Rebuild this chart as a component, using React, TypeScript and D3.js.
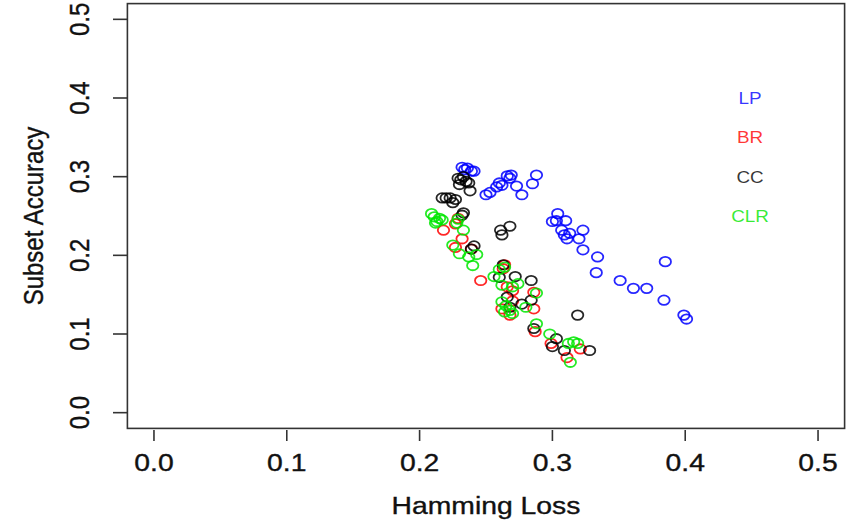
import * as d3 from 'd3';
import { useEffect, useRef } from 'react';

const width = 847;
const height = 524;

// hamming loss / subset accuracy pairs
const lpPoints = [
  [0.232, 0.312], [0.234, 0.309], [0.236, 0.311], [0.239, 0.307], [0.241, 0.307],
  [0.25, 0.277], [0.253, 0.28], [0.258, 0.287], [0.26, 0.292], [0.262, 0.289],
  [0.266, 0.301], [0.268, 0.298], [0.269, 0.302], [0.273, 0.288], [0.277, 0.277],
  [0.285, 0.291], [0.288, 0.302],
  [0.304, 0.253], [0.3, 0.243], [0.303, 0.244], [0.31, 0.244], [0.307, 0.232],
  [0.309, 0.226], [0.313, 0.228], [0.311, 0.221], [0.323, 0.232], [0.32, 0.221],
  [0.323, 0.207], [0.334, 0.198], [0.333, 0.178], [0.351, 0.168], [0.361, 0.158],
  [0.371, 0.158], [0.384, 0.143], [0.385, 0.192], [0.399, 0.124], [0.401, 0.119],
];

const brPoints = [
  [0.218, 0.232], [0.227, 0.24], [0.229, 0.247], [0.232, 0.221], [0.227, 0.21],
  [0.239, 0.208], [0.246, 0.168], [0.264, 0.188], [0.263, 0.183], [0.27, 0.155],
  [0.286, 0.153], [0.262, 0.132], [0.268, 0.124], [0.286, 0.132], [0.287, 0.103],
  [0.299, 0.088], [0.321, 0.081], [0.311, 0.07], [0.27, 0.142], [0.266, 0.16],
];

const ccPoints = [
  [0.229, 0.298], [0.231, 0.296], [0.233, 0.3], [0.235, 0.294], [0.237, 0.292],
  [0.238, 0.282], [0.23, 0.29],
  [0.217, 0.273], [0.22, 0.273], [0.223, 0.273], [0.225, 0.267], [0.227, 0.271],
  [0.233, 0.254], [0.232, 0.251],
  [0.261, 0.232], [0.262, 0.226], [0.268, 0.237],
  [0.241, 0.212], [0.239, 0.208],
  [0.263, 0.188], [0.26, 0.172], [0.272, 0.173], [0.284, 0.168],
  [0.266, 0.147], [0.284, 0.143], [0.268, 0.134], [0.277, 0.138],
  [0.319, 0.124],
  [0.286, 0.107], [0.303, 0.094], [0.3, 0.084], [0.309, 0.079], [0.328, 0.079],
];

const clrPoints = [
  [0.209, 0.253], [0.211, 0.249], [0.213, 0.243], [0.215, 0.247], [0.217, 0.245],
  [0.212, 0.241], [0.229, 0.246], [0.228, 0.241], [0.233, 0.232], [0.225, 0.213],
  [0.23, 0.202], [0.237, 0.198], [0.243, 0.201], [0.24, 0.187],
  [0.264, 0.185], [0.26, 0.182], [0.256, 0.173], [0.262, 0.162], [0.274, 0.164],
  [0.27, 0.16], [0.288, 0.152],
  [0.262, 0.141], [0.265, 0.136], [0.268, 0.13], [0.264, 0.128], [0.27, 0.126],
  [0.28, 0.134],
  [0.288, 0.113], [0.298, 0.1], [0.316, 0.09], [0.319, 0.088], [0.3135, 0.064],
  [0.312, 0.088],
];

const methods = ['LP', 'BR', 'CC', 'CLR'];
const methodColors = ['#0000ff', '#ff0000', '#000000', '#00e600'];
const methodPoints = [lpPoints, brPoints, ccPoints, clrPoints];

const xTicks = [0, 0.1, 0.2, 0.3, 0.4, 0.5];
const yTicks = [0, 0.1, 0.2, 0.3, 0.4, 0.5];

const App = () => {
  const svgRef = useRef(null);

  useEffect(() => {
    const svg = d3.select(svgRef.current);
    svg.selectAll('*').remove();

    // R pads the axis range by 4%
    const x = d3.scaleLinear().domain([-0.02, 0.52]).range([127.4, 844.6]);
    const y = d3.scaleLinear().domain([-0.02, 0.52]).range([428.4, 3.6]);

    const font = 'Liberation Sans, Arial, sans-serif';
    const sx = 1.18; // the figure is stretched sideways

    const label = (sel) =>
      sel
        .attr('text-anchor', 'middle')
        .style('font-family', font)
        .style('font-size', '24px')
        .attr('fill', '#111')
        .attr('stroke', '#111')
        .attr('stroke-width', 0.35);

    // points, drawn in legend order
    methods.forEach((m, i) => {
      svg
        .append('g')
        .selectAll('ellipse')
        .data(methodPoints[i])
        .enter()
        .append('ellipse')
        .attr('cx', (d) => x(d[0]))
        .attr('cy', (d) => y(d[1]))
        .attr('rx', 5.7)
        .attr('ry', 4.7)
        .attr('fill', 'none')
        .attr('stroke', methodColors[i])
        .attr('stroke-opacity', 0.85)
        .attr('stroke-width', 1.8);
    });

    // frame
    svg
      .append('rect')
      .attr('x', x(-0.02))
      .attr('y', y(0.52))
      .attr('width', x(0.52) - x(-0.02))
      .attr('height', y(-0.02) - y(0.52))
      .attr('fill', 'none')
      .attr('stroke', '#333')
      .attr('stroke-width', 1.6);

    // x axis
    const gx = svg.append('g');
    xTicks.forEach((t) => {
      gx.append('line')
        .attr('x1', x(t))
        .attr('x2', x(t))
        .attr('y1', 430)
        .attr('y2', 441)
        .attr('stroke', '#333')
        .attr('stroke-width', 1.6);
      gx.append('text')
        .attr('transform', `translate(${x(t)},471) scale(${sx},1)`)
        .call(label)
        .text(d3.format('.1f')(t));
    });

    // y axis
    const gy = svg.append('g');
    yTicks.forEach((t) => {
      gy.append('line')
        .attr('x1', 113)
        .attr('x2', 127.4)
        .attr('y1', y(t))
        .attr('y2', y(t))
        .attr('stroke', '#333')
        .attr('stroke-width', 1.6);
      gy.append('text')
        .attr('transform', `translate(89,${y(t)}) scale(1.12,1) rotate(-90)`)
        .call(label)
        .text(d3.format('.1f')(t));
    });

    // axis titles
    svg
      .append('text')
      .attr('transform', `translate(486,514) scale(${sx},1)`)
      .call(label)
      .text('Hamming Loss');

    svg
      .append('text')
      .attr('transform', `translate(43,216) scale(1.12,1) rotate(-90)`)
      .call(label)
      .text('Subset Accuracy');

    // legend labels
    const legendY = [0.4, 0.35, 0.3, 0.25];
    methods.forEach((m, i) => {
      svg
        .append('text')
        .attr('transform', `translate(750,${y(legendY[i]) + 6}) scale(${sx},1)`)
        .attr('text-anchor', 'middle')
        .style('font-family', font)
        .style('font-size', '16px')
        .attr('fill', methodColors[i])
        .attr('fill-opacity', 0.8)
        .text(m);
    });
  }, []);

  return (
    <svg
      ref={svgRef}
      width={width}
      height={height}
      style={{ position: 'absolute', left: 0, top: 0, background: '#fff' }}
    ></svg>
  );
};

export default App;
